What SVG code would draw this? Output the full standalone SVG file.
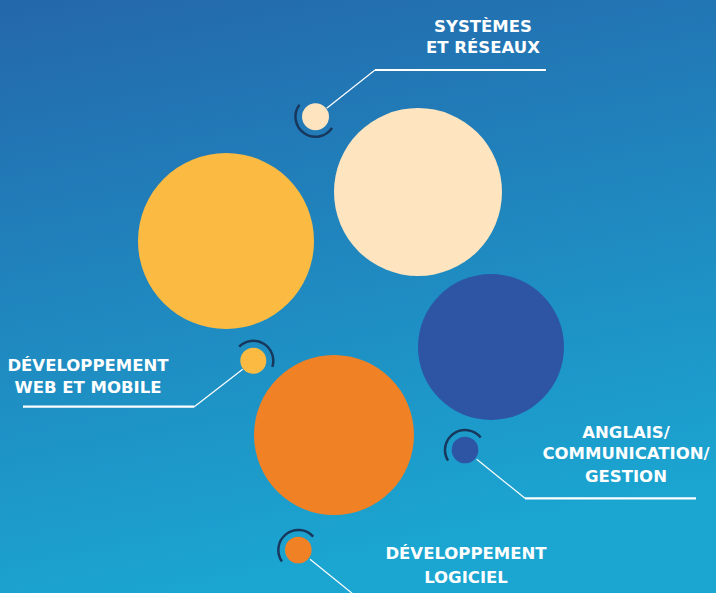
<svg xmlns="http://www.w3.org/2000/svg" width="716" height="593" viewBox="0 0 716 593">
<defs>
<linearGradient id="bg" x1="0" y1="0" x2="0.25" y2="1">
<stop offset="0" stop-color="#2467ab"/>
<stop offset="1" stop-color="#1ba5d1"/>
</linearGradient>
<style>
.lbl{font-family:"DejaVu Sans","Liberation Sans",sans-serif;font-weight:700;font-size:16.5px;fill:#ffffff;text-anchor:middle}
.arc{fill:none;stroke:#17375d;stroke-width:2.5}
.thin{fill:none;stroke:#ffffff;stroke-width:1.2}
.thick{fill:none;stroke:#ffffff;stroke-width:2.2}
</style>
</defs>
<rect x="0" y="0" width="716" height="593" fill="url(#bg)"/>
<g id="big-circles">
<circle id="c-systemes" cx="418" cy="192" r="84" fill="#fee4bf"/>
<circle id="c-web" cx="226" cy="241" r="88" fill="#fbbb43"/>
<circle id="c-anglais" cx="491" cy="347" r="73" fill="#2d55a3"/>
<circle id="c-logiciel" cx="334" cy="435" r="80" fill="#f08125"/>
</g>
<g id="connectors">
<path class="thin" d="M326.7 108.3 L375 70"/>
<path class="thick" d="M375 70 L546 70"/>
<path class="thin" d="M242.7 369.3 L194.3 406.7"/>
<path class="thick" d="M194.3 406.7 L23 406.7"/>
<path class="thin" d="M476.7 459.3 L525 498.3"/>
<path class="thick" d="M525 498.3 L696 498.3"/>
<path class="thin" d="M310 559.3 L353 594"/>
</g>
<g id="node-systemes">
<path class="arc" d="M332.08 127.88 A20 20 0 1 1 299.53 104.66"/>
<circle cx="315.5" cy="116.7" r="13.5" fill="#fee4bf"/>
<text class="lbl" x="483" y="32">SYSTÈMES</text>
<text class="lbl" x="483" y="53">ET RÉSEAUX</text>
</g>
<g id="node-web">
<path class="arc" d="M239.16 346.66 A20 20 0 0 1 272.32 366.98"/>
<circle cx="253.3" cy="360.8" r="13" fill="#fbbb43"/>
<text class="lbl" x="88" y="371">DÉVELOPPEMENT</text>
<text class="lbl" x="88" y="393">WEB ET MOBILE</text>
</g>
<g id="node-anglais">
<path class="arc" d="M448.04 460.6 A20 20 0 0 1 480.65 437.55"/>
<circle cx="465" cy="450" r="13.3" fill="#2d55a3"/>
<text class="lbl" x="626" y="437.5">ANGLAIS/</text>
<text class="lbl" x="626" y="458.5">COMMUNICATION/</text>
<text class="lbl" x="626" y="482">GESTION</text>
</g>
<g id="node-logiciel">
<path class="arc" d="M281.92 561.47 A20 20 0 0 1 313.16 536.62"/>
<circle cx="298.3" cy="550" r="13.3" fill="#f08125"/>
<text class="lbl" x="466" y="558.5">DÉVELOPPEMENT</text>
<text class="lbl" x="466" y="582.5">LOGICIEL</text>
</g>
</svg>
